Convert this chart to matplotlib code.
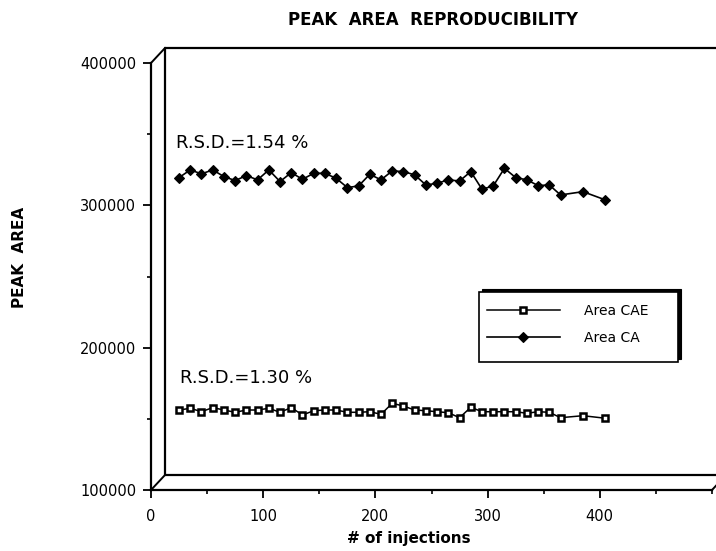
import matplotlib
matplotlib.use('Agg')
import matplotlib.pyplot as plt
from matplotlib.patches import Rectangle
from matplotlib.ticker import MultipleLocator

# ---------------- data ----------------
injections = [25, 35, 45, 55, 65, 75, 85, 95, 105, 115, 125, 135, 145, 155, 165,
              175, 185, 195, 205, 215, 225, 235, 245, 255, 265, 275, 285, 295,
              305, 315, 325, 335, 345, 355, 365, 385, 405]

area_ca = [319500, 324900, 322100, 324900, 320200, 317400, 320900, 317900, 324900,
           316700, 323000, 318300, 322500, 322500, 319000, 312500, 313600, 321800,
           317900, 324200, 323700, 321400, 314300, 315500, 317900, 317100, 323700,
           311300, 313600, 326000, 319500, 317900, 313900, 314300, 307300, 309600,
           303800]

area_cae = [156200, 157400, 155000, 157900, 156200, 154600, 156200, 156200, 157400,
            154600, 157900, 152700, 155700, 156200, 156200, 154600, 154600, 155000,
            153200, 160900, 159000, 156200, 155700, 155000, 154300, 150800, 158100,
            155000, 155000, 155000, 155000, 153900, 155000, 154600, 150800, 152200,
            150400]

x_ticks = [0, 100, 200, 300, 400]
x_tick_labels = ['0', '100', '200', '300', '400']
y_ticks = [100000, 200000, 300000, 400000]
y_tick_labels = ['100000', '200000', '300000', '400000']
series_labels = ['Area CAE', 'Area CA']
rsd_labels = ['R.S.D.=1.54 %', 'R.S.D.=1.30 %']

# ---------------- figure ----------------
W, H = 716, 551
plt.rcParams['font.family'] = ['DejaVu Sans']
fig = plt.figure(figsize=(W / 100, H / 100), dpi=100)

ax_l, ax_r, ax_t, ax_b = 151, 712, 63, 490
ax = fig.add_axes([ax_l / W, 1 - ax_b / H, (ax_r - ax_l) / W, (ax_b - ax_t) / H])
ax.set_xlim(0, 500)
ax.set_ylim(100000, 400000)

for s in ['top', 'right']:
    ax.spines[s].set_visible(False)
for s in ['left', 'bottom']:
    ax.spines[s].set_linewidth(1.6)
    ax.spines[s].set_color('black')

ax.set_xticks(x_ticks)
ax.set_xticklabels(x_tick_labels)
ax.set_yticks(y_ticks)
ax.set_yticklabels(y_tick_labels)
ax.xaxis.set_minor_locator(MultipleLocator(50))
ax.yaxis.set_minor_locator(MultipleLocator(50000))
ax.tick_params(which='major', length=5.5, width=1.3, labelsize=10.5, color='black')
ax.tick_params(axis='x', which='major', pad=8)
ax.tick_params(axis='y', which='major', pad=5)
ax.tick_params(which='minor', length=3, width=1.2)

# back wall (pseudo 3-D frame)
axw, axh = ax_r - ax_l, ax_b - ax_t
dx, dy = 14 / axw, 15 / axh
ax.plot([1 + dx, dx, dx, 1 + dx], [1 + dy, 1 + dy, dy, dy], transform=ax.transAxes,
        color='black', lw=1.6, clip_on=False, solid_capstyle='butt')
for xa, ya in [(0, 1), (0, 0), (1, 0)]:
    ax.plot([xa, xa + dx], [ya, ya + dy], transform=ax.transAxes,
            color='black', lw=1.4, clip_on=False)

# data
h_cae, = ax.plot(injections, area_cae, color='black', lw=1.1, marker='s',
                 markersize=4.2, markerfacecolor='white', markeredgecolor='black',
                 markeredgewidth=1.8, label=series_labels[0], clip_on=False)
h_ca, = ax.plot(injections, area_ca, color='black', lw=1.2, marker='D',
                markersize=4.8, markerfacecolor='black', markeredgecolor='black',
                markeredgewidth=0.8, label=series_labels[1], clip_on=False)

ax.text(22.3, 340300, rsd_labels[0], fontsize=13, va='baseline', ha='left')
ax.text(25.8, 175200, rsd_labels[1], fontsize=13, va='baseline', ha='left')

# legend frame with shadow
lx0, ly0, lx1, ly1 = 479, 292, 678, 362
ax.add_patch(Rectangle(((lx0 + 3) / W, 1 - (ly1 - 3) / H), (lx1 - lx0) / W, (ly1 - ly0) / H,
                       transform=fig.transFigure, facecolor='black', edgecolor='black',
                       lw=0.8, clip_on=False, zorder=3))
ax.add_patch(Rectangle((lx0 / W, 1 - ly1 / H), (lx1 - lx0) / W, (ly1 - ly0) / H,
                       transform=fig.transFigure, facecolor='white', edgecolor='black',
                       lw=1.2, clip_on=False, zorder=4))
leg = ax.legend(handles=[h_cae, h_ca], loc='upper left',
                bbox_to_anchor=(487 / W, 1 - 304 / H), bbox_transform=fig.transFigure,
                frameon=False, borderpad=0, borderaxespad=0, handlelength=5.25,
                handletextpad=1.7, labelspacing=0.95, fontsize=10, numpoints=1)
leg.set_zorder(6)

# titles / labels
fig.text(433 / W, 1 - 20 / H, 'PEAK  AREA  REPRODUCIBILITY', ha='center', va='center',
         fontsize=12, fontweight='bold')
fig.text(20 / W, 1 - 257 / H, 'PEAK  AREA', rotation=90, ha='center', va='center',
         fontsize=11, fontweight='bold')
fig.text(409 / W, 1 - 538 / H, '# of injections', ha='center', va='center',
         fontsize=11, fontweight='bold')

fig.savefig('out.png', dpi=100, facecolor='white')
